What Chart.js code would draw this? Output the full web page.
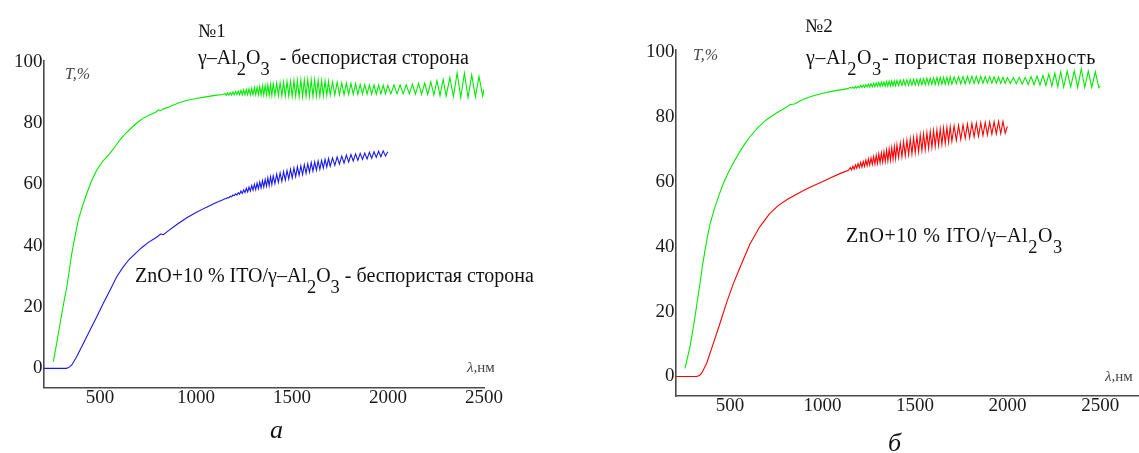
<!DOCTYPE html>
<html><head><meta charset="utf-8">
<script src="https://cdn.jsdelivr.net/npm/chart.js@4.4.1/dist/chart.umd.min.js"></script>
<style>
html,body{margin:0;padding:0;background:#fff;}
body{width:1139px;height:453px;position:relative;overflow:hidden;font-family:"Liberation Serif",serif;color:#111;}
canvas{position:absolute;top:0;}
.t{position:absolute;white-space:nowrap;line-height:1;}
.sub{position:relative;top:0.6em;font-size:0.92em;}
.it{font-style:italic;color:#444;}
</style></head><body>
<canvas id="c1" width="580" height="453" style="left:0px"></canvas>
<canvas id="c2" width="559" height="453" style="left:580px"></canvas>

<div class="t" style="left:198px;top:21px;font-size:19px">№1</div>
<div class="t" style="left:198px;top:46.5px;font-size:20px">γ–Al<span class="sub">2</span>O<span class="sub">3</span>&nbsp; - беспористая сторона</div>
<div class="t" style="left:135px;top:265px;font-size:20px">ZnO+10 % ITO/γ–Al<span class="sub">2</span>O<span class="sub">3</span> - беспористая сторона</div>
<div class="t it" style="left:65px;top:65.5px;font-size:16px">T,%</div>
<div class="t it" style="left:467px;top:359.5px;font-size:15px">λ,<span style="font-style:normal">нм</span></div>
<div class="t" style="left:270px;top:417px;font-size:26px;font-style:italic">а</div>

<div class="t" style="left:805px;top:15.5px;font-size:19px">№2</div>
<div class="t" style="left:806px;top:46.5px;font-size:20px;letter-spacing:0.6px">γ–Al<span class="sub">2</span>O<span class="sub">3</span>- пористая поверхность</div>
<div class="t" style="left:846px;top:225px;font-size:20px;letter-spacing:0.6px">ZnO+10 % ITO/γ–Al<span class="sub">2</span>O<span class="sub">3</span></div>
<div class="t it" style="left:693px;top:46.5px;font-size:16px">T,%</div>
<div class="t it" style="left:1105px;top:368.5px;font-size:15px">λ,<span style="font-style:normal">нм</span></div>
<div class="t" style="left:888px;top:430px;font-size:26px;font-style:italic">б</div>

<script>
// ---------- tick labels ----------
const xTicks = [500, 1000, 1500, 2000, 2500];
const yTicks = [0, 20, 40, 60, 80, 100];

// ---------- shared wavelength grid (nm) for the interference-fringe region ----------
const fringeNm = [
1150,1157,1164,1171,1178,1185,1192,1199,1206,1213,1220,1227,1234,1241,1248,1255,1262,1269,1276,1283,1290,1297,1304,1311,1318,1325,1332,1339,1346,1353,1360,1367,1374,1381,1388,1395,1402,
1411,1420,1429,1438,1447,1456,1465,1474,1483,1492,1501,1510,1519,1528,1537,1546,1555,1564,1573,1582,1591,1600,1609,1618,1627,1636,1645,1654,1663,1672,1681,1690,1699,
1711,1723,1735,1747,1759,1771,1783,1795,1807,1819,1831,1843,1855,1867,1879,1891,1903,1915,1927,1939,1951,1963,1975,1987,1999,
2015,2031,2047,2063,2079,2095,2111,2127,2143,2159,2175,2191,2207,2223,2239,2255,2271,2287,2303,
2322,2341,2360,2379,2398,2417,2436,2455,2474,2493,2500];

// ---------- chart 1: γ-Al2O3 non-porous side (green) ----------
const green1Nm = [257,275,292,310,327,340,353,370,387,410,431,455,483,515,552,580,604,630,660,690,723,760,790,805,816,830,850,880,909,950,1002,1050,1100,1140];
const green1T  = [2.2,8.5,14.7,21.0,26.6,32.0,37.5,43.2,48.4,53.2,57.0,61.0,64.7,67.6,70.1,72.4,74.5,76.4,78.2,79.9,81.5,82.7,83.5,84.3,84.0,84.6,85.0,85.8,86.5,87.3,88.0,88.5,89.0,89.3];
const green1FringeT = [
89.6,89.0,89.8,89.1,89.9,89.1,90.1,89.2,90.3,89.2,90.4,89.2,90.6,89.2,90.8,89.2,90.9,89.2,91.1,89.2,91.3,89.2,91.5,89.2,91.7,89.2,91.9,89.1,92.1,89.1,92.2,89.1,92.4,89.0,92.6,89.0,92.8,
89.0,93.0,88.9,93.1,88.9,93.3,88.8,93.5,88.8,93.6,88.7,93.8,88.7,93.9,88.6,94.0,88.6,94.0,88.7,94.1,88.7,94.1,88.7,94.0,88.8,93.9,88.8,93.8,88.9,93.7,89.0,93.6,89.1,
93.4,89.1,93.3,89.2,93.1,89.2,93.0,89.3,92.9,89.3,92.8,89.3,92.6,89.4,92.5,89.4,92.4,89.4,92.4,89.4,92.4,89.5,92.3,89.5,92.3,
89.5,92.4,89.5,92.4,89.5,92.5,89.5,92.7,89.4,92.9,89.4,93.0,89.3,93.4,89.1,93.8,88.9,94.2,88.8,
94.8,88.6,96.3,88.3,96.2,88.3,95.7,88.5,95.2,88.8,91.0];

// ---------- chart 1: ZnO+10% ITO / γ-Al2O3 non-porous side (blue) ----------
const blue1Nm = [205,325,340,353,378,413,448,483,517,552,587,620,650,686,720,750,780,800,815,830,850,900,950,1000,1050,1100,1140];
const blue1T  = [0,0,0.4,1.1,3.8,8.1,12.5,16.8,21.2,25.5,29.9,33.0,35.4,37.6,39.5,41.0,42.2,43.0,43.8,43.6,44.6,46.9,49.0,50.8,52.4,53.9,55.0];
const blue1FringeT = [
55.3,55.3,55.7,55.6,56.1,55.9,56.5,56.3,56.9,56.5,57.3,56.8,57.8,57.0,58.2,57.3,58.7,57.5,59.1,57.8,59.6,58.1,60.0,58.3,60.4,58.6,60.8,58.8,61.2,59.1,61.6,59.4,62.1,59.6,62.5,59.9,62.8,
60.2,63.3,60.6,63.7,61.0,64.1,61.4,64.5,61.8,64.9,62.1,65.3,62.5,65.7,62.9,66.0,63.2,66.4,63.6,66.7,64.0,67.1,64.3,67.3,64.6,67.6,64.9,67.8,65.3,68.1,65.6,68.4,65.9,
68.6,66.2,68.9,66.6,69.2,66.9,69.5,67.3,69.7,67.6,69.9,67.8,70.1,68.1,70.2,68.3,70.4,68.5,70.6,68.8,70.8,69.0,70.9,69.2,70.6];

// ---------- chart 2: γ-Al2O3 porous surface (green) ----------
const green2Nm = [257,270,284,297,311,324,338,351,365,378,392,415,437,464,491,522,554,580,608,650,700,751,800,825,848,870,900,950,1002,1070,1137];
const green2T  = [2.5,5.7,9.2,13.6,18.4,23.5,28.7,34.0,38.9,43.0,46.8,51.5,55.3,59.4,62.8,66.2,69.3,71.6,73.8,76.6,79.2,81.1,82.7,83.7,83.9,84.6,85.4,86.4,87.2,88.0,88.6];
const green2FringeT = [
89.0,88.7,89.1,88.7,89.3,88.8,89.4,88.9,89.6,89.0,89.7,89.0,89.8,89.1,90.0,89.1,90.1,89.2,90.3,89.2,90.4,89.3,90.5,89.3,90.6,89.4,90.7,89.4,90.8,89.4,90.9,89.4,91.0,89.5,91.0,89.5,91.1,
89.5,91.2,89.6,91.3,89.6,91.3,89.6,91.4,89.7,91.5,89.7,91.5,89.7,91.6,89.8,91.7,89.8,91.8,89.9,91.8,89.9,91.9,89.9,92.0,89.9,92.0,90.0,92.1,90.0,92.1,90.0,92.2,90.0,
92.2,90.1,92.3,90.1,92.3,90.1,92.4,90.2,92.4,90.2,92.4,90.2,92.4,90.3,92.3,90.3,92.3,90.3,92.2,90.3,92.2,90.2,92.1,90.2,92.0,
90.2,92.0,90.1,92.1,90.0,92.1,89.9,92.3,89.8,92.5,89.7,92.7,89.6,93.1,89.4,93.4,89.2,93.8,89.1,
94.0,89.1,94.1,89.0,94.7,89.0,94.0,89.0,93.8,88.9,89.5];

// ---------- chart 2: ZnO+10% ITO / γ-Al2O3 (red) ----------
const red2Nm = [205,320,335,347,374,410,446,482,518,563,608,660,712,760,809,860,905,950,1002,1050,1100,1140];
const red2T  = [0,0,0.3,1.0,4.1,10.2,16.4,22.8,28.6,34.8,40.8,46.0,50.0,52.6,54.5,56.1,57.5,58.7,60.0,61.3,62.6,63.5];
const red2FringeT = [
64.3,63.6,64.7,63.8,65.1,64.1,65.5,64.3,65.9,64.5,66.2,64.7,66.6,64.9,67.0,65.1,67.3,65.3,67.7,65.4,68.1,65.6,68.5,65.8,68.8,66.0,69.2,66.2,69.6,66.4,70.0,66.6,70.4,66.9,70.8,67.1,71.3,
67.4,71.8,67.7,72.3,68.0,72.7,68.3,73.1,68.6,73.5,68.9,73.9,69.2,74.3,69.6,74.7,69.9,75.0,70.2,75.4,70.6,75.7,70.9,75.9,71.2,76.2,71.5,76.5,71.8,76.7,72.1,76.9,72.4,
77.1,72.7,77.3,73.0,77.5,73.3,77.7,73.5,77.9,73.8,78.0,74.0,78.1,74.2,78.2,74.4,78.3,74.6,78.4,74.7,78.5,74.8,78.5,74.9,77.0];

function series(nm, T, fT, color) {
  const xs = nm.concat(fringeNm.slice(0, fT.length));
  const ys = T.concat(fT);
  return {
    data: xs.map((x, i) => ({x: x, y: ys[i]})),
    borderColor: color, borderWidth: 1.1, pointRadius: 0, tension: 0, fill: false
  };
}

Chart.defaults.font.family = '"Liberation Serif", serif';
const tickFont = {family: '"Liberation Serif", serif', size: 19, lineHeight: 1};

function build(id, datasets, c) {
  return new Chart(document.getElementById(id), {
    type: 'line',
    data: {datasets: datasets},
    options: {
      responsive: false, animation: false, devicePixelRatio: 1, events: [],
      layout: {padding: c.pad, autoPadding: false},
      plugins: {legend: {display: false}, tooltip: {enabled: false}},
      scales: {
        x: {
          type: 'linear', min: c.xMin, max: c.xMax,
          afterBuildTicks: s => { s.ticks = xTicks.map(v => ({value: v})); },
          afterFit: s => { s.height = 30; },
          grid: {display: false, drawTicks: false},
          border: {display: true, color: '#4a4a4a', width: 1.6},
          ticks: {font: tickFont, color: '#1a1a1a', padding: 1, maxRotation: 0, autoSkip: false, callback: v => String(v)}
        },
        y: {
          type: 'linear', min: c.yMin, max: c.yMax,
          afterBuildTicks: s => { s.ticks = yTicks.map(v => ({value: v})); },
          afterFit: s => { s.width = c.yW; },
          grid: {display: false, drawTicks: false},
          border: {display: true, color: '#4a4a4a', width: 1.6},
          ticks: {font: tickFont, color: '#1a1a1a', padding: 1, autoSkip: false, callback: v => String(v)}
        }
      }
    }
  });
}

build('c1', [
  series(green1Nm, green1T, green1FringeT, 'rgb(0,235,0)'),
  series(blue1Nm, blue1T, blue1FringeT, 'rgb(25,25,235)')
], {xMin: 205, xMax: 2500, yMin: -6.3, yMax: 100.3, yW: 43.4,
    pad: {left: 0, right: 96, top: 60.7, bottom: 35.3}});

build('c2', [
  series(green2Nm, green2T, green2FringeT, 'rgb(0,235,0)'),
  series(red2Nm, red2T, red2FringeT, 'rgb(255,0,0)')
], {xMin: 205, xMax: 2710, yMin: -6.0, yMax: 100.5, yW: 40,
    pad: {left: 55.4, right: 0, top: 50, bottom: 27}});
</script>
</body></html>
